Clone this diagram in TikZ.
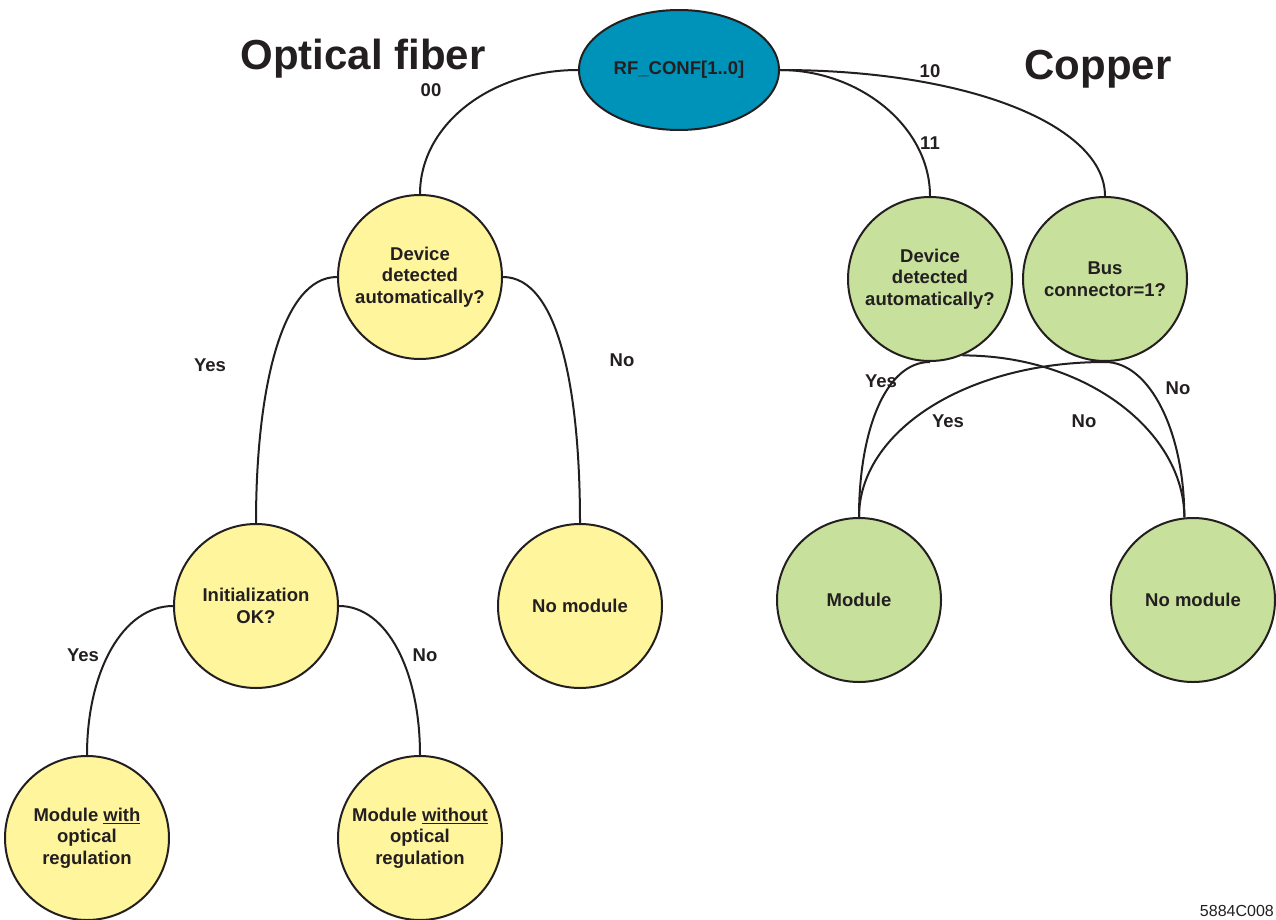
\documentclass[tikz,border=0pt]{standalone}
\usepackage{fontspec}
\setmainfont{Liberation Sans}
\usepackage{tikz}
\usetikzlibrary{shapes.geometric}

\definecolor{confblue}{HTML}{0093B9}
\definecolor{fibyellow}{HTML}{FFF59D}
\definecolor{cugreen}{HTML}{C7E09B}
\definecolor{inkdark}{HTML}{231F20}

\begin{document}
\begin{tikzpicture}[x=1pt,y=-1pt,
    every node/.style={text=inkdark,font=\fontsize{18.5}{21.5}\selectfont\bfseries},
    decision/.style={circle,draw=inkdark,line width=2pt,minimum size=164pt,
      inner sep=0pt,align=center},
    fibnode/.style={decision,fill=fibyellow},
    cunode/.style={decision,fill=cugreen},
    link/.style={draw=inkdark,line width=2pt},
    title/.style={font=\fontsize{42}{44}\selectfont\bfseries}]
    \useasboundingbox (0,0) rectangle (1276,920);

    % root
    \node[ellipse,draw=inkdark,line width=2pt,fill=confblue,minimum width=200pt,
      minimum height=120pt,inner sep=0pt] (conf) at (679,70) {RF\_CONF[1..0]};
    \node[title] (fibertitle) at (363,59) {Optical fiber};
    \node[title] (coppertitle) at (1098,69) {Copper};

    % optical fiber side
    \node[fibnode] (fibdetect) at (420,277) {Device\\detected\\automatically?};
    \node[fibnode] (fibinit) at (256,606) {Initialization\\OK?};
    \node[fibnode] (fibnone) at (580,606) {No module};
    \node[fibnode] (fibwith) at (87,838) {Module \underline{with}\\optical\\regulation};
    \node[fibnode] (fibwithout) at (420,838) {Module \underline{without}\\optical\\regulation};

    % copper side
    \node[cunode] (cudetect) at (930,279) {Device\\detected\\automatically?};
    \node[cunode] (cubus) at (1105,279) {Bus\\connector=1?};
    \node[cunode] (cumodule) at (859,600) {Module};
    \node[cunode] (cunone) at (1193,600) {No module};

    % connectors
    \draw[link] (conf.west) .. controls +(-88,0) and +(0,-69) .. (fibdetect.north);
    \draw[link] (conf.east) .. controls +(80,0) and +(0,-69) .. (cudetect.north);
    \draw[link] (conf.east) .. controls +(190,0) and +(0,-70) .. (cubus.north);
    \draw[link] (fibdetect.west) .. controls +(-55,0) and +(0,-135) .. (fibinit.north);
    \draw[link] (fibdetect.east) .. controls +(55,0) and +(0,-135) .. (fibnone.north);
    \draw[link] (fibinit.west) .. controls +(-50,0) and +(0,-84) .. (fibwith.north);
    \draw[link] (fibinit.east) .. controls +(48,0) and +(0,-84) .. (fibwithout.north);
    \draw[link] (cudetect.south) .. controls +(-45,0) and +(0,-85) .. (cumodule.north);
    \draw[link] (cudetect.-67) .. controls +(125,0) and +(0,-85) .. (cunone.96);
    \draw[link] (cubus.south) .. controls +(-140,0) and +(0,-85) .. (cumodule.north);
    \draw[link] (cubus.south) .. controls +(45,0) and +(0,-85) .. (cunone.96);

    % edge labels
    \node (lab00) at (431,90) {00};
    \node (lab11) at (930,143) {11};
    \node (lab10) at (930,71) {10};
    \node (fibyes) at (210,365) {Yes};
    \node (fibno) at (622,360) {No};
    \node (inityes) at (83,655) {Yes};
    \node (initno) at (425,655) {No};
    \node (cuyes) at (881,381) {Yes};
    \node (buyes) at (948,421) {Yes};
    \node (cuno) at (1084,421) {No};
    \node (buno) at (1178,388) {No};

    \node[font=\fontsize{16}{18}\selectfont,anchor=east,inner sep=1pt] (figid) at (1275,911) {5884C008};
\end{tikzpicture}
\end{document}
